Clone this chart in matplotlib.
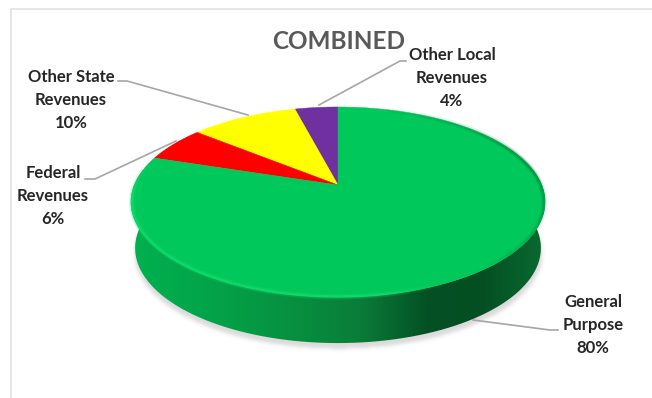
import numpy as np
import matplotlib
matplotlib.use("Agg")
import matplotlib.pyplot as plt
from matplotlib.colors import LinearSegmentedColormap, to_rgb
from matplotlib.patches import Polygon, PathPatch
from matplotlib.path import Path
from matplotlib.collections import LineCollection

plt.rcParams['font.family'] = ['Lato', 'DejaVu Sans']

categories = ["Other Local\nRevenues", "Other State\nRevenues", "Federal\nRevenues", "General\nPurpose"]
shares = [4, 10, 6, 80]
colors = ["#7030a0", "#ffff00", "#ff0000", "#00c85a"]

# pie geometry in pixels
CX, CY = 338, 185
A, B, K = 203.7, 92.0, 0.179
DEPTH = 46


def rim(theta):
    """Perspective position of a pie angle, measured counter-clockwise from the top."""
    s = 1 + K * np.cos(theta)
    return CX - A * np.sin(theta) / s, CY - B * np.cos(theta) / s


def blur(img, n):
    kernel = np.exp(-np.linspace(-2.5, 2.5, n) ** 2)
    kernel /= kernel.sum()
    img = np.apply_along_axis(lambda r: np.convolve(r, kernel, mode='same'), 0, img)
    return np.apply_along_axis(lambda r: np.convolve(r, kernel, mode='same'), 1, img)


fig = plt.figure(figsize=(6.52, 3.98), dpi=100)
ax = fig.add_axes([0, 0, 1, 1])
ax.set_xlim(0, 652)
ax.set_ylim(398, 0)
ax.axis('off')

# chart frame
ax.plot([11, 11, 652], [398, 8.5, 8.5], color="#e2e2e2", lw=1.2)

theta_all = np.linspace(0, 2 * np.pi, 721)
rx, ry = rim(theta_all)

# soft shadow under the disc
yy, xx = np.mgrid[0:398, 0:652]
shadow = np.zeros((398, 652))
base = Path(np.column_stack([CX + (rx - CX) * 0.985, ry + DEPTH + 5]))
shadow[base.contains_points(np.column_stack([xx.ravel(), yy.ravel()])).reshape(shadow.shape)] = 1
shadow = blur(shadow, 15) * 0.26
rgba = np.zeros((398, 652, 4))
rgba[..., :3] = 0.45
rgba[..., 3] = shadow
ax.imshow(rgba, extent=(0, 652, 398, 0), aspect='auto', zorder=1)

# side wall, shaded left to right; the lower edge sits slightly narrower
lower = np.linspace(np.radians(80), np.radians(280), 300)
lx, ly = rim(lower)
wall = np.column_stack([np.r_[lx, CX + (lx[::-1] - CX) * 0.98], np.r_[ly, ly[::-1] + DEPTH]])
wall_cmap = LinearSegmentedColormap.from_list("wall", [
    (0.00, "#00b14f"), (0.20, "#03a349"), (0.40, "#078f3f"), (0.55, "#0a7d39"),
    (0.72, "#045024"), (0.85, "#044f22"), (1.00, "#0a6a30")])
wall_img = ax.imshow(np.linspace(0, 1, 512)[None, :], cmap=wall_cmap, extent=(131, 545, 398, 0),
                     aspect='auto', zorder=2)
wall_patch = PathPatch(Path(wall), transform=ax.transData, fc='none', ec='none')
ax.add_patch(wall_patch)
wall_img.set_clip_path(wall_patch)

# top face wedges
start = 0.0
for share, color in zip(shares, colors):
    end = start + share / sum(shares) * 2 * np.pi
    t = np.linspace(start, end, max(int(share * 6), 8))
    x, y = rim(t)
    ax.add_patch(Polygon(np.column_stack([np.r_[CX, x], np.r_[CY, y]]), closed=True, fc=color, ec=color,
                         lw=0.3, zorder=3))
    start = end

# bevel along the rim of the green wedge: light lower left, dark on the right
t = np.linspace(np.radians(74), np.radians(345), 400)
bx, by = rim(t)
bx2, by2 = CX + (bx - CX) * 0.995, 202 + (by - 202) * 0.995
deg = np.degrees(t[:-1])
bevel_rgb = np.where((deg < 205)[:, None], np.array(to_rgb("#16e271"))[None, :], np.array(to_rgb("#017a38"))[None, :])
bevel_alpha = np.interp(deg, [74, 95, 190, 205, 215, 280, 345], [0, 0.9, 0.9, 0, 0, 0.9, 0])
pts = np.column_stack([bx2, by2])
segs = np.stack([pts[:-1], pts[1:]], axis=1)
for w, a in [(4.0, 0.25), (2.0, 0.55)]:
    lc = LineCollection(segs, colors=np.column_stack([bevel_rgb, bevel_alpha * a]), linewidths=w, zorder=4,
                        capstyle='butt')
    ax.add_collection(lc)

# title and data labels
ax.text(338.5, 41.5, "COMBINED", ha='center', va='center', fontsize=17.5, fontweight='bold', color="#595959")
label_pos = [(452, 78), (71, 100), (53, 196), (593, 325)]
for name, share, (lx_, ly_) in zip(categories, shares, label_pos):
    ax.text(lx_, ly_, f"{name}\n{share}%", ha='center', va='center', fontsize=12, fontweight='bold',
            color="#262626", linespacing=1.55)

# leader lines
leaders = [([319, 400, 406], [105, 61, 61]),
           ([118, 127, 248], [81, 81, 115]),
           ([85, 95, 176], [179, 179, 141]),
           ([473, 550, 558], [320, 330, 330])]
for lx_, ly_ in leaders:
    ax.plot(lx_, ly_, color="#a6a6a6", lw=1.2, zorder=5)

fig.savefig("out.png", dpi=100)
